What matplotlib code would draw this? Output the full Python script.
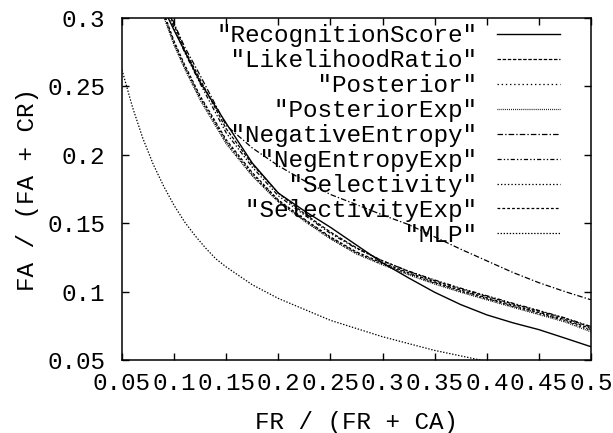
import matplotlib
matplotlib.use("Agg")
import matplotlib.pyplot as plt

plt.rcParams['font.family'] = ['Liberation Mono', 'DejaVu Sans Mono']
plt.rcParams['lines.scale_dashes'] = False

# common x grid for the 8 score curves
fr = [0.08, 0.09, 0.10, 0.11, 0.125, 0.15, 0.175, 0.20, 0.225, 0.25, 0.275,
      0.30, 0.325, 0.35, 0.375, 0.40, 0.425, 0.45, 0.475, 0.50]

recognition_score = [0.330, 0.307, 0.291, 0.276, 0.253, 0.223, 0.194, 0.172, 0.159, 0.147,
                     0.134, 0.121, 0.110, 0.0995, 0.0905, 0.0830, 0.0772, 0.0722, 0.0660, 0.0597]
likelihood_ratio = [0.336, 0.312, 0.295, 0.277, 0.255, 0.219, 0.193, 0.172, 0.157, 0.1435,
                    0.132, 0.1225, 0.1148, 0.108, 0.102, 0.0965, 0.0910, 0.0858, 0.0805, 0.0740]
posterior = [0.325, 0.302, 0.281, 0.264, 0.241, 0.209, 0.185, 0.166, 0.152, 0.139,
             0.128, 0.120, 0.1128, 0.106, 0.100, 0.0945, 0.0890, 0.0838, 0.0785, 0.0715]
posterior_exp = [0.324, 0.301, 0.280, 0.263, 0.240, 0.208, 0.1845, 0.1655, 0.1515, 0.1385,
                 0.1275, 0.1195, 0.1123, 0.1055, 0.0995, 0.0940, 0.0885, 0.0832, 0.0778, 0.0705]
negative_entropy = [0.338, 0.315, 0.296, 0.279, 0.258, 0.2215, 0.205, 0.192, 0.181, 0.171,
                    0.1636, 0.156, 0.149, 0.140, 0.131, 0.1225, 0.114, 0.1065, 0.100, 0.094]
neg_entropy_exp = [0.334, 0.310, 0.293, 0.275, 0.252, 0.216, 0.191, 0.170, 0.156, 0.1425,
                   0.1315, 0.1225, 0.1150, 0.1085, 0.1025, 0.0970, 0.0915, 0.0862, 0.0808, 0.0745]
selectivity = [0.326, 0.303, 0.282, 0.265, 0.242, 0.210, 0.186, 0.1665, 0.1525, 0.1395,
               0.1285, 0.1205, 0.1133, 0.1065, 0.1005, 0.0950, 0.0895, 0.0843, 0.0790, 0.0720]
selectivity_exp = [0.327, 0.304, 0.283, 0.266, 0.243, 0.211, 0.187, 0.167, 0.153, 0.140,
                   0.129, 0.121, 0.1138, 0.107, 0.101, 0.0955, 0.0900, 0.0848, 0.0795, 0.0730]

mlp_fr = [0.05, 0.06, 0.07, 0.08, 0.09, 0.10, 0.11, 0.12, 0.13, 0.14, 0.15,
          0.175, 0.20, 0.225, 0.25, 0.275, 0.30, 0.325, 0.35, 0.375, 0.40]
mlp = [0.262, 0.235, 0.212, 0.193, 0.177, 0.163, 0.151, 0.141, 0.132, 0.124, 0.118,
       0.105, 0.095, 0.087, 0.079, 0.073, 0.067, 0.062, 0.057, 0.053, 0.049]

names = ['RecognitionScore', 'LikelihoodRatio', 'Posterior', 'PosteriorExp',
         'NegativeEntropy', 'NegEntropyExp', 'Selectivity', 'SelectivityExp', 'MLP']
series = [recognition_score, likelihood_ratio, posterior, posterior_exp,
          negative_entropy, neg_entropy_exp, selectivity, selectivity_exp, mlp]
styles = ['-', (0, (2.5, 1.2)), (0, (1, 2)), (0, (0.6, 0.8)), (0, (4, 1.5, 1, 1.5)),
          (0, (3, 1.5, 1, 1.5, 1, 1.5)), (0, (1, 1.5)), (0, (2, 1.5)), (0, (1, 1.2))]

xticks = [0.05, 0.1, 0.15, 0.2, 0.25, 0.3, 0.35, 0.4, 0.45, 0.5]
xticklabels = ['0.05', '0.1', '0.15', '0.2', '0.25', '0.3', '0.35', '0.4', '0.45', '0.5']
yticks = [0.05, 0.1, 0.15, 0.2, 0.25, 0.3]
yticklabels = ['0.05', '0.1', '0.15', '0.2', '0.25', '0.3']

fs = 17.5
fig = plt.figure(figsize=(6.13, 4.33), dpi=100)
ax = fig.add_axes([122 / 613, 1 - 360 / 433, 469 / 613, 342 / 433])

# pad labels so the monospace text ends flush right, like gnuplot's key
width = max(len(n) for n in names) + 2
for n, ys, ls in zip(names, series, styles):
    xs = mlp_fr if n == 'MLP' else fr
    lab = ('"' + n + '"').rjust(width)
    ax.plot(xs, ys, color='black', lw=1.0 if ls == '-' else 0.9, linestyle=ls, label=lab)

ax.set_xlim(0.05, 0.5)
ax.set_ylim(0.05, 0.3)
ax.set_xticks(xticks)
ax.set_xticklabels(xticklabels)
ax.set_yticks(yticks)
ax.set_yticklabels(yticklabels)
ax.tick_params(direction='in', top=True, right=True, length=5, width=1.0,
               labelsize=fs)
ax.tick_params(axis='x', pad=9)
ax.tick_params(axis='y', pad=12)
for s in ax.spines.values():
    s.set_linewidth(1.1)

ax.set_xlabel('FR / (FR + CA)', fontsize=fs, labelpad=11)
ax.set_ylabel('FA / (FA + CR)', fontsize=fs, labelpad=6)

ax.legend(loc='upper right', bbox_to_anchor=(0.936, 0.985), frameon=False,
          markerfirst=False, fontsize=fs, handlelength=2.6, handletextpad=0.8,
          labelspacing=0.08, borderpad=0.05, borderaxespad=0)

plt.savefig('out.png', dpi=100)
